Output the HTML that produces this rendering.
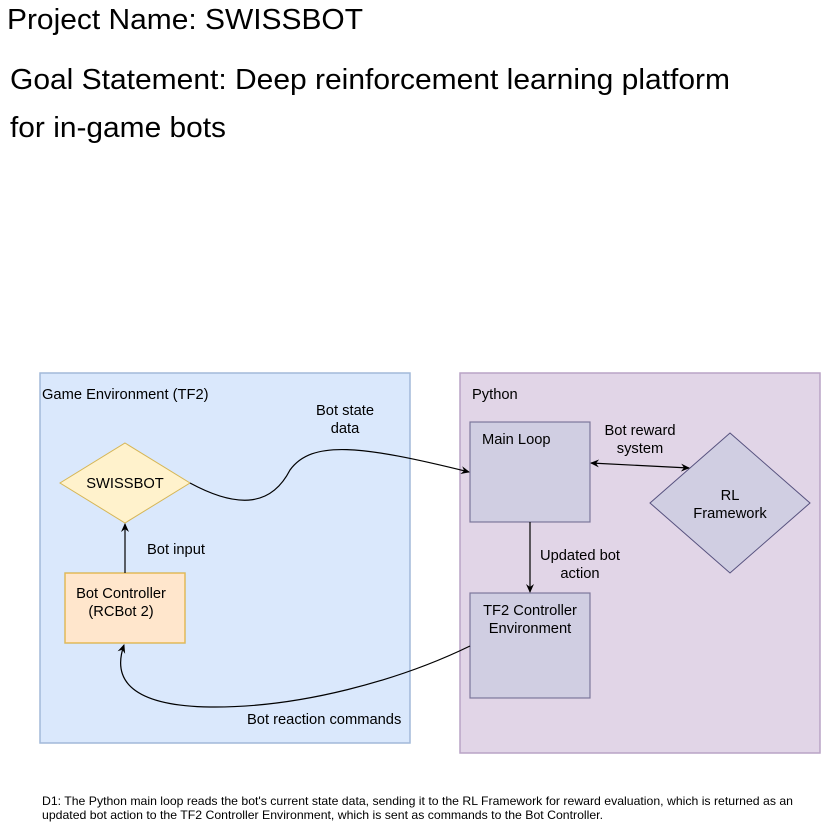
<!DOCTYPE html>
<html><head><style>
body{margin:0;width:830px;height:823px;background:#fff;font-family:"Liberation Sans",Arial,sans-serif;overflow:hidden}
</style></head><body>
<svg width="830" height="823" xmlns="http://www.w3.org/2000/svg" font-family="Liberation Sans, Arial, sans-serif">
<defs><marker id="a" markerWidth="10" markerHeight="10" refX="8" refY="5" orient="auto-start-reverse" markerUnits="userSpaceOnUse"><path d="M0,1 L9,5 L0,9 L3,5 Z" fill="#000"/></marker></defs>
<text x="7" y="29" font-size="29" textLength="356" lengthAdjust="spacingAndGlyphs">Project Name: SWISSBOT</text>
<text x="10" y="89" font-size="29" textLength="720" lengthAdjust="spacingAndGlyphs">Goal Statement: Deep reinforcement learning platform</text>
<text x="10" y="137" font-size="29" textLength="216" lengthAdjust="spacingAndGlyphs">for in-game bots</text>
<rect x="40" y="373" width="370" height="370" fill="#dae8fc" stroke="#a2b9d9" stroke-width="1.5"/>
<rect x="460" y="373" width="360" height="380" fill="#e1d5e7" stroke="#b9a3c6" stroke-width="1.5"/>
<g font-size="14.7">
<text x="42" y="399">Game Environment (TF2)</text>
<text x="472" y="399">Python</text>
<polygon points="125,443 190,483 125,523 60,483" fill="#fff2cc" stroke="#d6b656"/>
<text x="125" y="488" text-anchor="middle">SWISSBOT</text>
<rect x="65" y="573" width="120" height="70" fill="#ffe6cc" stroke="#d79b00" stroke-opacity="0.6" stroke-width="1.5"/>
<text x="121" y="598" text-anchor="middle">Bot Controller</text>
<text x="121" y="616" text-anchor="middle">(RCBot 2)</text>
<rect x="470" y="422" width="120" height="100" fill="#d0cee2" stroke="#56517e" stroke-opacity="0.7" stroke-width="1.2"/>
<text x="482" y="444">Main Loop</text>
<rect x="470" y="593" width="120" height="105" fill="#d0cee2" stroke="#56517e" stroke-opacity="0.7" stroke-width="1.2"/>
<text x="530" y="615" text-anchor="middle">TF2 Controller</text>
<text x="530" y="633" text-anchor="middle">Environment</text>
<polygon points="730,433 810,503 730,573 650,503" fill="#d0cee2" stroke="#56517e"/>
<text x="730" y="500" text-anchor="middle">RL</text>
<text x="730" y="518" text-anchor="middle">Framework</text>
<g fill="none" stroke="#000" stroke-width="1.2">
<line x1="125" y1="573" x2="125" y2="524" marker-end="url(#a)"/>
<path d="M190,483 C240,510 272,505 290,470 C312,440 360,445 469,472" marker-end="url(#a)"/>
<line x1="591" y1="463" x2="689" y2="468" marker-start="url(#a)" marker-end="url(#a)"/>
<line x1="530" y1="522" x2="530" y2="592" marker-end="url(#a)"/>
<path d="M470,646 C400,680 300,708 210,707 C140,706 110,685 124,645" marker-end="url(#a)"/>
</g>
<text x="147" y="554">Bot input</text>
<text x="345" y="415" text-anchor="middle">Bot state</text>
<text x="345" y="433" text-anchor="middle">data</text>
<text x="640" y="435" text-anchor="middle">Bot reward</text>
<text x="640" y="453" text-anchor="middle">system</text>
<text x="580" y="560" text-anchor="middle">Updated bot</text>
<text x="580" y="578" text-anchor="middle">action</text>
<text x="247" y="724">Bot reaction commands</text>
</g>
<text x="42" y="805" font-size="12" textLength="751" lengthAdjust="spacingAndGlyphs">D1: The Python main loop reads the bot's current state data, sending it to the RL Framework for reward evaluation, which is returned as an</text>
<text x="42" y="819" font-size="12" textLength="561" lengthAdjust="spacingAndGlyphs">updated bot action to the TF2 Controller Environment, which is sent as commands to the Bot Controller.</text>
</svg>
</body></html>
